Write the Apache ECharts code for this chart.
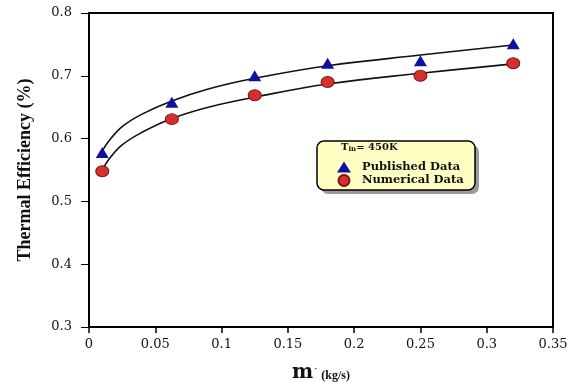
<!DOCTYPE html>
<html>
<head>
<meta charset="utf-8">
<script src="https://cdn.jsdelivr.net/npm/echarts@6/dist/echarts.min.js"></script>
<style>
  html, body { margin: 0; padding: 0; background: #fff; }
  #chart { width: 579px; height: 382px; }
</style>
</head>
<body>
<div id="chart"></div>
<script>
// mass flow rates (kg/s) where the markers sit
const flowRates = [0.01, 0.0625, 0.125, 0.18, 0.25, 0.32];
const publishedData = [0.578, 0.658, 0.700, 0.720, 0.724, 0.751];
const numericalData = [0.548, 0.631, 0.669, 0.690, 0.700, 0.720];

// trend curves
const curveX = [0.01, 0.015, 0.025, 0.04, 0.0625, 0.09, 0.125, 0.18, 0.25, 0.32];
const publishedCurve = [0.58, 0.596, 0.619, 0.639, 0.66, 0.679, 0.696, 0.716, 0.733, 0.749];
const numericalCurve = [0.55, 0.567, 0.59, 0.61, 0.632, 0.65, 0.666, 0.687, 0.704, 0.719];

const xTicks = [0, 0.35, 0.05];
const yTicks = [0.3, 0.8, 0.1];

const serif = '"Liberation Serif", "DejaVu Serif", serif';
const wideSerif = '"DejaVu Serif", serif';

const pair = (xs, ys) => xs.map((x, i) => [x, ys[i]]);

const chart = echarts.init(document.getElementById('chart'), null, {renderer: 'canvas'});

const option = {
  animation: false,
  backgroundColor: '#fff',
  grid: {
    left: 89, right: 26, top: 13, bottom: 55,
    outerBoundsMode: 'none',
    show: true, borderColor: '#000', borderWidth: 2,
  },
  xAxis: {
    type: 'value',
    min: xTicks[0], max: xTicks[1], interval: xTicks[2],
    name: '{m|m}{d|˙}{u| (kg/s)}',
    nameLocation: 'middle',
    nameGap: 36,
    nameTextStyle: {
      rich: {
        m: {fontFamily: wideSerif, fontWeight: 'bold', fontSize: 20, color: '#111'},
        d: {fontFamily: wideSerif, fontWeight: 'bold', fontSize: 10, color: '#111', verticalAlign: 'top', padding: [4, 0, 0, 0]},
        u: {fontFamily: serif, fontWeight: 'bold', fontSize: 12, color: '#111', padding: [6, 0, 0, 0]},
      },
    },
    axisLine: {show: true, lineStyle: {color: '#000', width: 2}},
    axisTick: {show: true, length: 6, lineStyle: {color: '#000', width: 1.5}},
    splitLine: {show: false},
    axisLabel: {
      fontFamily: wideSerif, fontSize: 13, color: '#111', margin: 11,
      formatter: v => String(+v.toFixed(2)),
    },
  },
  yAxis: {
    type: 'value',
    min: yTicks[0], max: yTicks[1], interval: yTicks[2],
    name: 'Thermal Efficiency (%)',
    nameLocation: 'middle',
    nameGap: 55,
    nameTextStyle: {fontFamily: serif, fontWeight: 'bold', fontSize: 18, color: '#111'},
    axisLine: {show: true, lineStyle: {color: '#000', width: 2}},
    axisTick: {show: true, length: 8, lineStyle: {color: '#000', width: 1}},
    splitLine: {show: false},
    axisLabel: {
      fontFamily: wideSerif, fontSize: 13, color: '#111', margin: 17,
      formatter: v => v.toFixed(1),
    },
  },
  legend: {
    data: ['Published Data', 'Numerical Data'],
    orient: 'vertical',
    left: 337, top: 161,
    padding: 0,
    itemGap: 1,
    itemWidth: 14, itemHeight: 11,
    textStyle: {fontFamily: wideSerif, fontWeight: 'bold', fontSize: 11.5, color: '#111', padding: [0, 0, 0, 6]},
    selectedMode: false,
  },
  graphic: [
    {
      type: 'rect', z: 0,
      shape: {x: 321, y: 145, width: 158, height: 49, r: 7},
      style: {fill: '#9a9a9a'},
    },
    {
      type: 'rect', z: 1,
      shape: {x: 317, y: 141, width: 158, height: 49, r: 7},
      style: {fill: '#ffffc4', stroke: '#000', lineWidth: 1.5},
    },
    {
      type: 'text', z: 2,
      left: 341, top: 142,
      style: {
        text: '{t|T}{s|in}{t|= 450K}',
        rich: {
          t: {fontFamily: wideSerif, fontWeight: 'bold', fontSize: 10, fill: '#111'},
          s: {fontFamily: wideSerif, fontWeight: 'bold', fontSize: 7, fill: '#111', padding: [5, 0, 0, 0]},
        },
      },
    },
  ],
  series: [
    {
      name: 'published curve', type: 'line', smooth: 0.4, showSymbol: false,
      data: pair(curveX, publishedCurve),
      lineStyle: {color: '#111', width: 1.6}, z: 2, silent: true,
    },
    {
      name: 'numerical curve', type: 'line', smooth: 0.4, showSymbol: false,
      data: pair(curveX, numericalCurve),
      lineStyle: {color: '#111', width: 1.6}, z: 2, silent: true,
    },
    {
      name: 'Published Data', type: 'scatter', symbol: 'triangle', symbolSize: [13, 11],
      data: pair(flowRates, publishedData),
      itemStyle: {color: '#1010a0', opacity: 1}, z: 3,
    },
    {
      name: 'Numerical Data', type: 'scatter', symbol: 'circle', symbolSize: [13, 11],
      data: pair(flowRates, numericalData),
      itemStyle: {color: '#d43030', borderColor: '#8a1010', borderWidth: 1, opacity: 1}, z: 3,
    },
  ],
};

chart.setOption(option);
</script>
</body>
</html>
